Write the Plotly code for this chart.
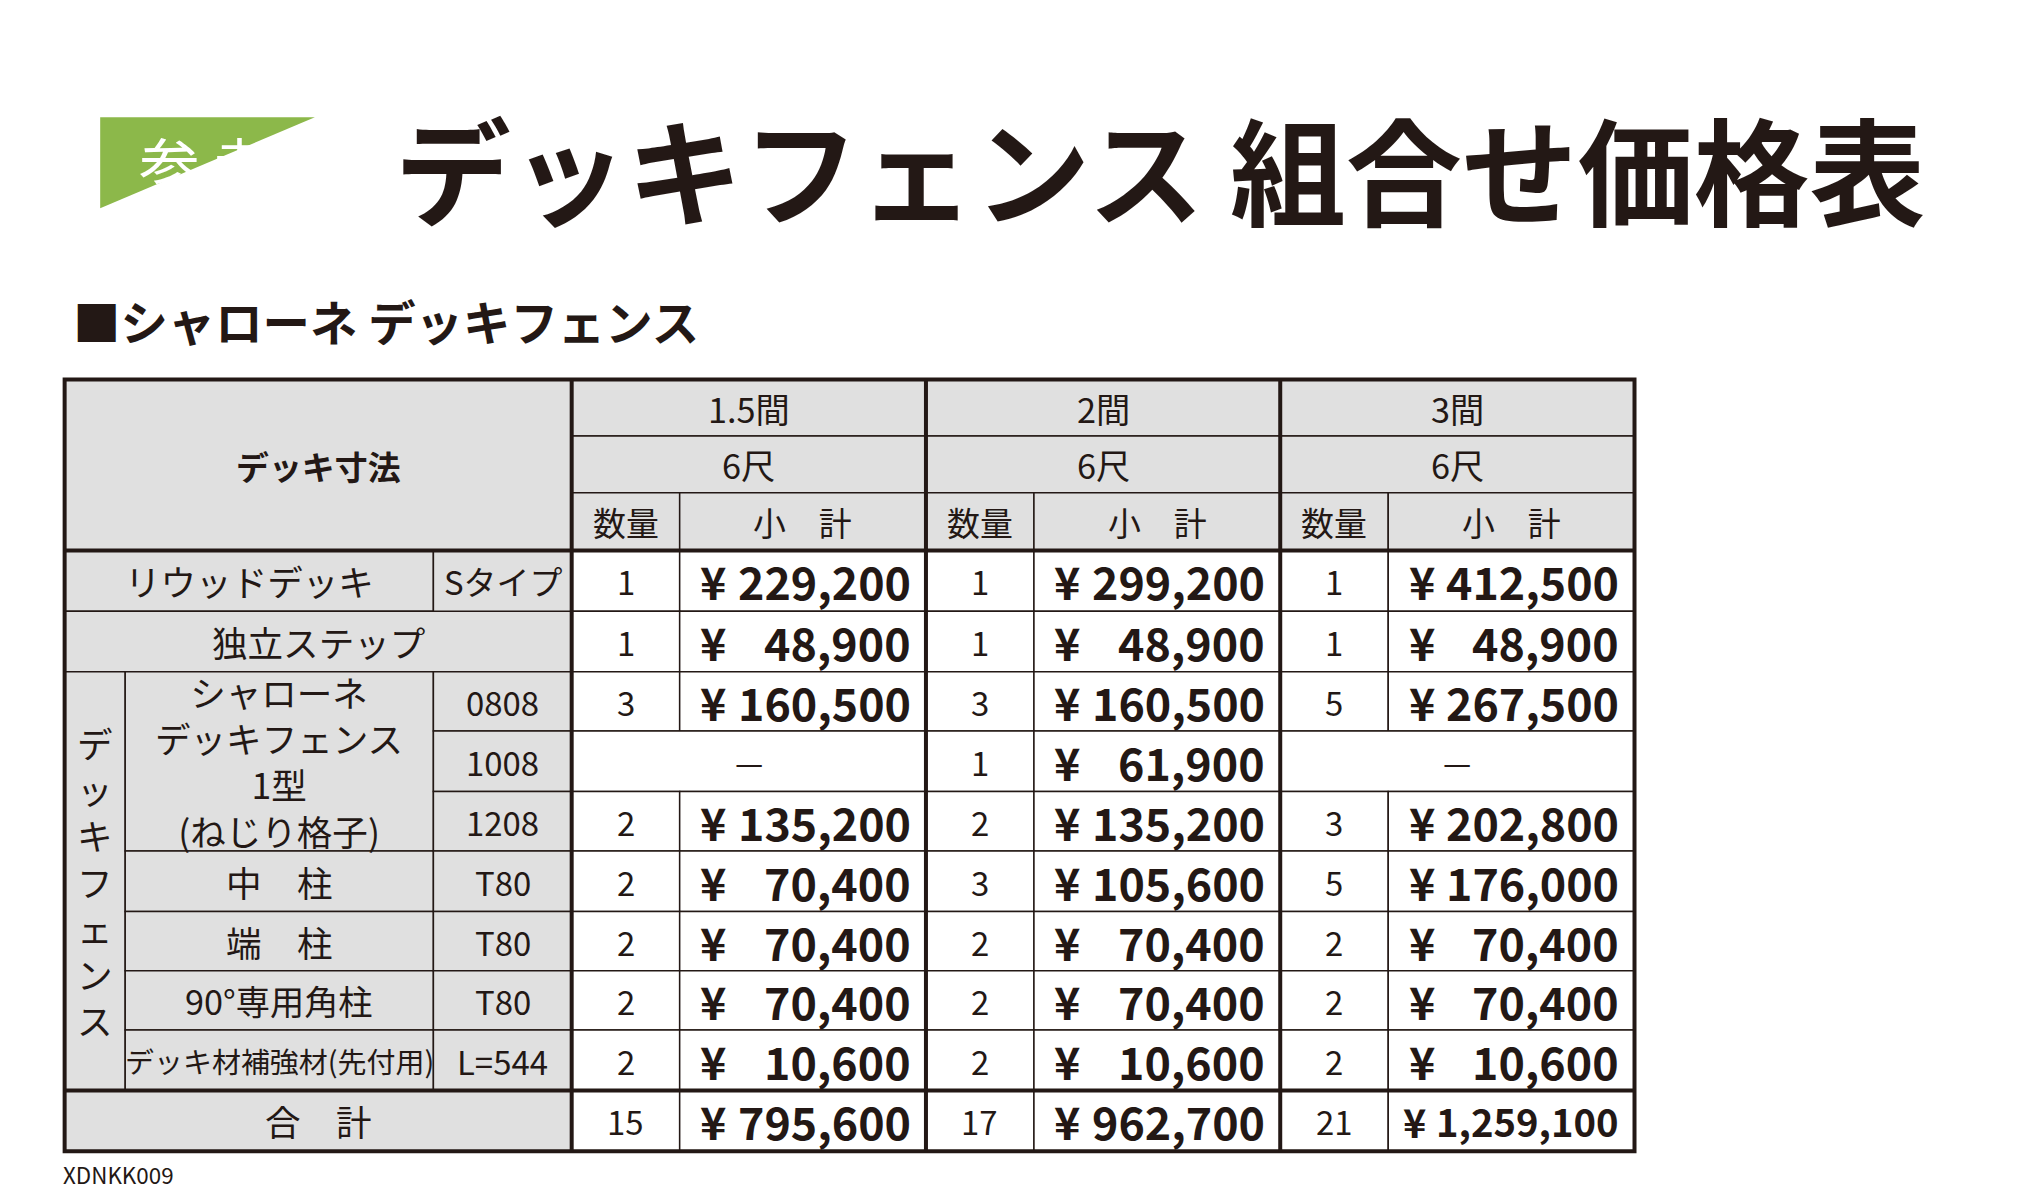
import plotly.graph_objects as go

S = 2044 / 1552  # layout drawn in reference-display units, scaled to page
FONT = "Noto Sans CJK JP"

spans = ["1.5間", "2間", "3間"]
shaku = ["6尺", "6尺", "6尺"]
sizes = ["Sタイプ", "", "0808", "1008", "1208", "T80", "T80", "T80", "L=544"]
qty = [
    [1, 1, 3, None, 2, 2, 2, 2, 2],
    [1, 1, 3, 1, 2, 3, 2, 2, 2],
    [1, 1, 5, None, 3, 5, 2, 2, 2],
]
subtotal = [
    ["229,200", "48,900", "160,500", None, "135,200", "70,400", "70,400", "70,400", "10,600"],
    ["299,200", "48,900", "160,500", "61,900", "135,200", "105,600", "70,400", "70,400", "10,600"],
    ["412,500", "48,900", "267,500", None, "202,800", "176,000", "70,400", "70,400", "10,600"],
]
total_qty = [15, 17, 21]
total_price = ["795,600", "962,700", "1,259,100"]

xs = [43, 89, 323, 428, 510, 697, 779, 966, 1048, 1235]
ys = [282, 325, 368, 412, 458, 504, 549, 595, 640, 686, 731, 776, 822, 868]
GRAY = "#e0e0e0"
LINE = "#231815"

fig = go.Figure()
shapes, ann = [], []


def cell(x0, x1, y0, y1, fill):
    shapes.append(dict(type="rect", x0=x0, x1=x1, y0=y0, y1=y1, fillcolor=fill,
                       line=dict(color=LINE, width=1.5)))


def text(x, y, t, size, bold=False, anchor="center", color=LINE):
    ann.append(dict(x=x, y=y, text=f"<b>{t}</b>" if bold else t, showarrow=False,
                    xanchor=anchor, yanchor="middle",
                    font=dict(family=FONT, size=size * S, color=color)))


# header block
cell(xs[0], xs[3], ys[0], ys[3], GRAY)
text((xs[0] + xs[3]) / 2, (ys[0] + ys[3]) / 2, "デッキ寸法", 25, bold=True)
for k in range(3):
    a, b, c = xs[3 + 2 * k], xs[4 + 2 * k], xs[5 + 2 * k]
    cell(a, c, ys[0], ys[1], GRAY)
    text((a + c) / 2, (ys[0] + ys[1]) / 2, spans[k], 26)
    cell(a, c, ys[1], ys[2], GRAY)
    text((a + c) / 2, (ys[1] + ys[2]) / 2, shaku[k], 26)
    cell(a, b, ys[2], ys[3], GRAY)
    text((a + b) / 2, (ys[2] + ys[3]) / 2, "数量", 25)
    cell(b, c, ys[2], ys[3], GRAY)
    text((b + c) / 2, (ys[2] + ys[3]) / 2, "小　計", 25)

# row labels
cell(xs[0], xs[2], ys[3], ys[4], GRAY)
text((xs[0] + xs[2]) / 2, (ys[3] + ys[4]) / 2, "リウッドデッキ", 27)
cell(xs[0], xs[3], ys[4], ys[5], GRAY)
text((xs[0] + xs[3]) / 2, (ys[4] + ys[5]) / 2, "独立ステップ", 27)
cell(xs[0], xs[1], ys[5], ys[12], GRAY)
text((xs[0] + xs[1]) / 2, (ys[5] + ys[12]) / 2, "<br>".join("デッキフェンス"), 27)
cell(xs[1], xs[2], ys[5], ys[8], GRAY)
text((xs[1] + xs[2]) / 2, (ys[5] + ys[8]) / 2, "シャローネ<br>デッキフェンス<br>1型<br>(ねじり格子)", 27)
for r, lab, sz in [(8, "中　柱", 27), (9, "端　柱", 27), (10, "90°専用角柱", 26), (11, "デッキ材補強材(先付用)", 22)]:
    cell(xs[1], xs[2], ys[r], ys[r + 1], GRAY)
    text((xs[1] + xs[2]) / 2, (ys[r] + ys[r + 1]) / 2, lab, sz)
cell(xs[0], xs[3], ys[12], ys[13], GRAY)
text((xs[0] + xs[3]) / 2, (ys[12] + ys[13]) / 2, "合　計", 27)
for i, s in enumerate(sizes):
    if s:
        cell(xs[2], xs[3], ys[3 + i], ys[4 + i], GRAY)
        text((xs[2] + xs[3]) / 2, (ys[3 + i] + ys[4 + i]) / 2, s, 25)

# data cells
for k in range(3):
    a, b, c = xs[3 + 2 * k], xs[4 + 2 * k], xs[5 + 2 * k]
    rows = [(qty[k][i], subtotal[k][i]) for i in range(9)] + [(total_qty[k], total_price[k])]
    for i, (q, p) in enumerate(rows):
        y0, y1 = ys[3 + i], ys[4 + i]
        ym = (y0 + y1) / 2
        if q is None:
            cell(a, c, y0, y1, "white")
            text((a + c) / 2, ym, "—", 24)
            continue
        cell(a, b, y0, y1, "white")
        cell(b, c, y0, y1, "white")
        text((a + b) / 2, ym, str(q), 25)
        long_ = len(p) > 7
        text(b + (10 if long_ else 14), ym, "¥", 30 if long_ else 34, bold=True, anchor="left")
        text(c - 10, ym, p, 29 if long_ else 34, bold=True, anchor="right")

# thick rules
thick = dict(color=LINE, width=4)
shapes.append(dict(type="rect", x0=xs[0], x1=xs[-1], y0=ys[0], y1=ys[-1], line=thick))
for y in (ys[3], ys[12]):
    shapes.append(dict(type="line", x0=xs[0], x1=xs[-1], y0=y, y1=y, line=thick))
for x in (xs[3], xs[5], xs[7]):
    shapes.append(dict(type="line", x0=x, x1=x, y0=ys[0], y1=ys[-1], line=thick))

# title pill (rounded ends drawn as a path)
pill = "M 70 83 L 233 83 A 35 35 0 0 1 233 152 L 70 152 A 35 35 0 0 1 70 83 Z"
shapes.append(dict(type="path", path=pill, fillcolor="#8cb84a", line=dict(width=0)))
text(151, 117, "参 考", 46, color="white")
text(292, 120, "デッキフェンス 組合せ価格表", 88, bold=True, anchor="left", color="#231815")
text(48, 237, "■シャローネ デッキフェンス", 36, bold=True, anchor="left")
text(40, 885, "XDNKK009", 17, anchor="left")

fig.update_layout(
    width=2044, height=1204, margin=dict(l=0, r=0, t=0, b=0),
    plot_bgcolor="white", paper_bgcolor="white",
    shapes=shapes, annotations=ann, showlegend=False,
    xaxis=dict(range=[0, 1552], visible=False, fixedrange=True),
    yaxis=dict(range=[1204 / S, 0], visible=False, fixedrange=True),
)
fig.write_html("out.html")
